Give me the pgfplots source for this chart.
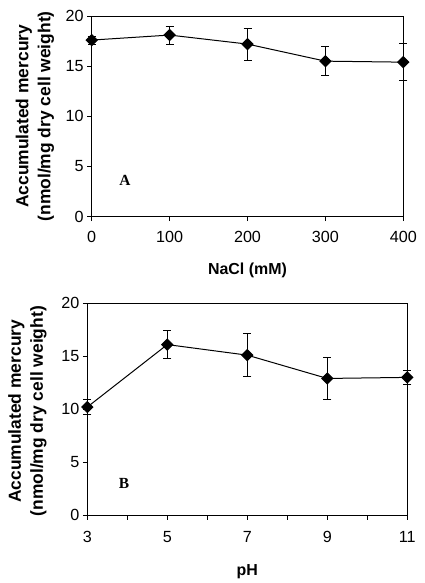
\documentclass[border=0pt]{standalone}
\usepackage{fontspec}
\setmainfont{Liberation Sans}
\newfontfamily\timesfont{Liberation Serif}
\usepackage{pgfplots}
\pgfplotsset{compat=1.18}
\begin{document}
\begin{tikzpicture}
\useasboundingbox (0bp,0bp) rectangle (425bp,583bp);
\pgfplotsset{
  panel/.style={
    scale only axis,
    axis line style={line width=0.9bp},
    tick style={line width=0.8bp, black},
    tick align=outside,
    tick pos=left,
    major tick length=4.5bp,
    ymin=0, ymax=20,
    ytick={0,5,10,15,20},
    ticklabel style={font=\fontsize{16.2}{18}\selectfont},
    /pgf/number format/assume math mode=true,
    xlabel style={font=\fontsize{16}{18}\selectfont\bfseries, anchor=center},
    ylabel style={font=\fontsize{17.5}{22}\selectfont\bfseries, align=center, anchor=center, rotate=0},
    xticklabel style={yshift=-7bp},
    yticklabel style={xshift=0bp},
    clip=false,
  },
  dat/.style={black, line width=1bp,
      mark=square*, mark size=3.9bp, mark options={rotate=45, solid, fill=black},
      error bars/y dir=both, error bars/y explicit,
      error bars/error bar style={line width=1bp, solid},
      error bars/error mark options={rotate=90, mark size=4bp, line width=1bp}},
}
\begin{axis}[panel,
  at={(91.7bp,366.3bp)}, anchor=south west,
  width=311.6bp, height=200.7bp,
  xmin=0, xmax=400, xtick={0,100,200,300,400},
  xlabel={NaCl (mM)},
  ylabel={Accumulated mercury\\(nmol/mg dry cell weight)},
  xlabel style={at={(axis description cs:0.5,-0.2656)}},
  ylabel style={at={(axis description cs:-0.182,0.5)}},
]
\addplot[dat] coordinates {
  (0,17.6) +- (0,0.4)
  (100,18.1) +- (0,0.9)
  (200,17.2) +- (0,1.6)
  (300,15.5) +- (0,1.45)
  (400,15.4) +- (0,1.85)
};
\node[font=\fontsize{15.5}{17}\selectfont\timesfont\bfseries] at (axis cs:42.7,3.66) {A};
\end{axis}
\begin{axis}[panel,
  at={(87.3bp,68bp)}, anchor=south west,
  width=320bp, height=211.7bp,
  xmin=3, xmax=11, xtick={3,4,...,11},
  xticklabels={3,,5,,7,,9,,11},
  xticklabel style={yshift=-1bp},
  xlabel={pH},
  ylabel={Accumulated mercury\\(nmol/mg dry cell weight)},
  xlabel style={at={(axis description cs:0.5,-0.268)}},
  ylabel style={at={(axis description cs:-0.187,0.49)}},
]
\addplot[dat] coordinates {
  (3,10.2) +- (0,0.7)
  (5,16.1) +- (0,1.35)
  (7,15.1) +- (0,2.05)
  (9,12.9) +- (0,1.95)
  (11,13.0) +- (0,0.68)
};
\node[font=\fontsize{15.5}{17}\selectfont\timesfont\bfseries] at (axis cs:3.92,3.0) {B};
\end{axis}
\end{tikzpicture}
\end{document}
